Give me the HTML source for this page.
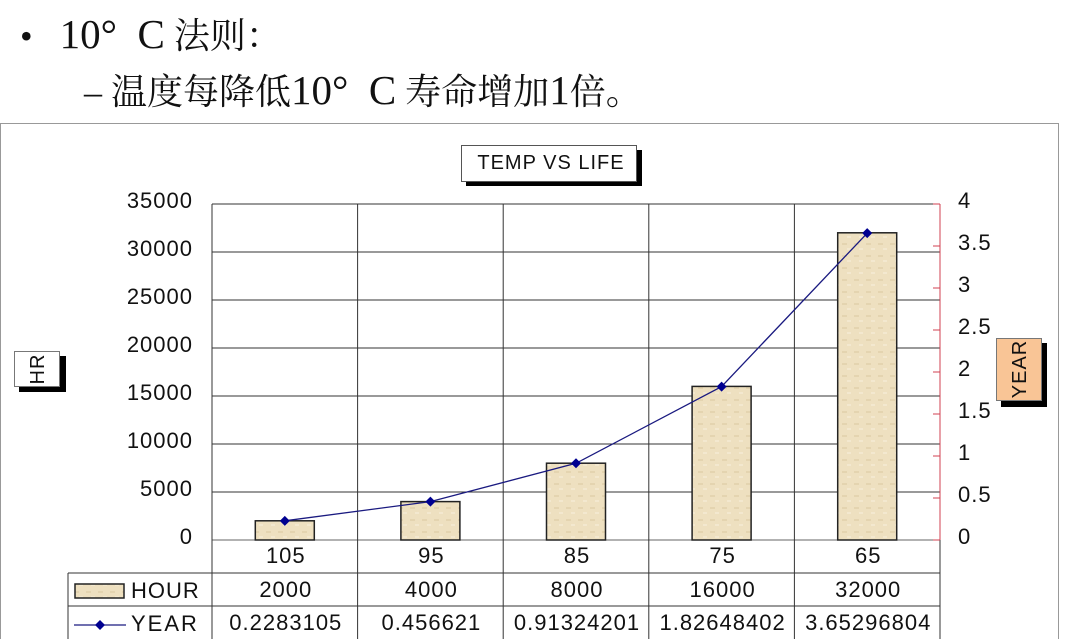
<!DOCTYPE html>
<html><head><meta charset="utf-8"><style>
body{margin:0;width:1080px;height:639px;overflow:hidden;background:#fff;font-family:"Liberation Sans",sans-serif}
.hd{position:absolute;font-family:"Liberation Serif","Noto Serif CJK SC",serif;font-size:36px;color:#111;white-space:nowrap}
.hd .l{font-size:41px}
</style></head><body>
<div class="hd" style="left:20px;top:8px">•&nbsp;&nbsp;&nbsp;<span class="l">10°&nbsp;&nbsp;C</span> 法则：</div>
<div class="hd" style="left:84px;top:64px">–&nbsp;温度每降低<span class="l">10°&nbsp;&nbsp;C</span> 寿命增加<span class="l">1</span>倍。</div>
<svg id="chart" width="1080" height="639" style="position:absolute;left:0;top:0">
<defs><pattern id="tex" width="12" height="12" patternUnits="userSpaceOnUse"><rect width="12" height="12" fill="#eee0c0"/><rect x="2" y="3" width="5" height="2" fill="#e4d4b0"/><rect x="7" y="8" width="4" height="2" fill="#f3e8cf"/></pattern></defs>
<rect x="0.5" y="123.5" width="1058" height="520" fill="none" stroke="#999"/>
<g id="g"></g>
</svg>
<script>
const categories=["105","95","85","75","65"];
const hours=[2000,4000,8000,16000,32000];
const years=[0.2283105,0.456621,0.91324201,1.82648402,3.65296804];
const yearLabels=["0.2283105","0.456621","0.91324201","1.82648402","3.65296804"];
const leftTicks=[0,5000,10000,15000,20000,25000,30000,35000];
const rightTicks=["0","0.5","1","1.5","2","2.5","3","3.5","4"];
const NS="http://www.w3.org/2000/svg",g=document.getElementById('g');
const X0=212,X1=940,Y0=540,Y1=204,cw=(X1-X0)/categories.length;
const yL=v=>Y0-(v/35000)*(Y0-Y1), yR=v=>Y0-(v/4)*(Y0-Y1), xc=i=>X0+cw*(i+0.5);
const F={'font-size':22,'letter-spacing':1,fill:'#111'};
function mk(t,a,txt){const e=document.createElementNS(NS,t);for(const k in a)e.setAttribute(k,a[k]);if(txt!=null)e.textContent=txt;g.appendChild(e);return e;}
function tx(a,txt){return mk('text',Object.assign({},F,a),txt);}
leftTicks.forEach(v=>{
 const l=mk('line',{x1:X0,x2:X1,y1:yL(v),y2:yL(v),stroke:v==0?'#666':'#333','stroke-width':1});
 
 
 const t=tx({x:193,y:yL(v)+4,'text-anchor':'end'},String(v));
 
 
});
for(let i=0;i<=categories.length;i++){
 const x=X0+cw*i;
 const l=mk('line',{x1:x,x2:x,y1:Y1,y2:639,stroke:'#333'});
 
 
}
const ra=mk('line',{x1:X1,x2:X1,y1:Y1,y2:Y0,stroke:'#d04050'});


rightTicks.forEach((s,i)=>{
 const y=yR(+s);
 mk('line',{x1:X1-7,x2:X1,y1:y,y2:y,stroke:'#d04050'});
 const t=tx({x:958,y:y+4},s);
 
 
});
hours.forEach((v,i)=>{
 const b=mk('rect',{x:xc(i)-29.5,y:yL(v),width:59,height:Y0-yL(v),fill:'url(#tex)',stroke:'#222','stroke-width':1.5});
 
 
});
const pl=mk('polyline',{points:years.map((v,i)=>xc(i)+','+yR(v)).join(' '),fill:'none',stroke:'#1a1a80','stroke-width':1.3});


years.forEach((v,i)=>{
 const p=mk('polygon',{points:`${xc(i)},${yR(v)-5} ${xc(i)+5},${yR(v)} ${xc(i)},${yR(v)+5} ${xc(i)-5},${yR(v)}`,fill:'#000090'});
 
 
});
[573,606].forEach(y=>{mk('line',{x1:68,x2:X1,y1:y,y2:y,stroke:'#333'});});
mk('line',{x1:68,x2:68,y1:573,y2:639,stroke:'#333'});
categories.forEach((c,i)=>{
 const t=tx({x:xc(i)+1,y:563,'text-anchor':'middle'},c);
 
 
 const h=tx({x:xc(i)+1,y:597,'text-anchor':'middle'},String(hours[i]));
 
 
 const yv=tx({x:xc(i)+1,y:630,'text-anchor':'middle'},yearLabels[i]);
 
 
});
const lk=mk('rect',{x:75,y:584,width:49,height:14,fill:'url(#tex)',stroke:'#222','stroke-width':1.5});


const lh=tx({x:131,y:598},'HOUR');


mk('line',{x1:74,x2:126,y1:625,y2:625,stroke:'#1a1a80','stroke-width':1.3});
mk('polygon',{points:'100,620 105,625 100,630 95,625',fill:'#000090'});
const ly=tx({x:131,y:631,'letter-spacing':2},'YEAR');


mk('rect',{x:466,y:150,width:176,height:36,fill:'#000'});
mk('rect',{x:461.5,y:145.5,width:175,height:36,fill:'#fff',stroke:'#555'});
const tt=tx({x:551,y:169,'text-anchor':'middle','font-size':20},'TEMP VS LIFE');


mk('rect',{x:19,y:356,width:47,height:36,fill:'#000'});
mk('rect',{x:14.5,y:351.5,width:45,height:35,fill:'#fff',stroke:'#777'});
const hr=tx({x:0,y:0,'text-anchor':'middle','font-size':20,transform:'translate(44,369) rotate(-90)'},'HR');


mk('rect',{x:1001,y:343,width:46,height:64,fill:'#000'});
mk('rect',{x:996.5,y:338.5,width:45,height:62,fill:'#f9c596',stroke:'#777'});
const yr=tx({x:0,y:0,'text-anchor':'middle','font-size':20,transform:'translate(1026,369) rotate(-90)'},'YEAR');


</script>
</body></html>
